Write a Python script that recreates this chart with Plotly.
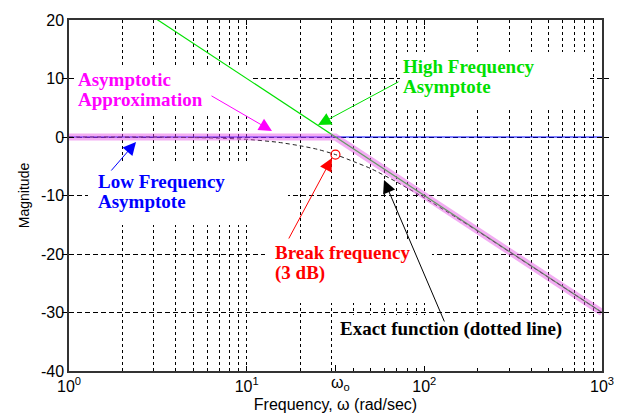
import plotly.graph_objects as go

# ---------------- data ----------------
W0 = 31.6  # break frequency (rad/sec)

lf_w = [1, 1000]            # low frequency asymptote
lf_db = [0, 0]
hf_w = [1, 1000]            # high frequency asymptote (-20 dB/dec)
hf_db = [30, -30]
approx_w = [1, 31.6, 1000]  # asymptotic approximation
approx_db = [0, 0, -30]
exact_w = [1, 2, 3, 5, 7, 10, 15, 20, 25, 31.6, 40, 50, 70, 100, 150, 200, 300, 500, 700, 1000]
exact_db = [0.0, 0.0, 0.0, -0.1, -0.2, -0.4, -0.9, -1.5, -2.1, -3.0, -4.2, -5.4, -7.7,
            -10.4, -13.7, -16.1, -19.6, -24.0, -26.9, -30.0]
break_w = [31.6]
break_db = [-3.0]

x_major = [1, 10, 100, 1000]
x_major_text = ["10<sup>0</sup>", "10<sup>1</sup>", "10<sup>2</sup>", "10<sup>3</sup>"]
x_minor = [2, 3, 4, 5, 6, 7, 8, 9, 20, 30, 40, 50, 60, 70, 80, 90,
           200, 300, 400, 500, 600, 700, 800, 900]
y_ticks = [20, 10, 0, -10, -20, -30, -40]
y_tick_text = ["20", "10", "0", "-10", "-20", "-30", "-40"]

# ---------------- layout helpers (screen pixel -> paper / data) ----------------
OFF = 8                      # page body margin
W, H = 622 - OFF, 416 - OFF  # figure size
PL, PR, PT, PB = 69, 602, 20, 371  # plot area in screen pixels
PW, PH = PR - PL, PB - PT
L, T = PL - OFF, PT - OFF
R, B = W - L - PW, H - T - PH


def PX(x):
    return (x - PL) / PW


def PY(y):
    return (PB - y) / PH


def DX(x):  # screen x -> data value on log axis
    return 10 ** (3 * PX(x))


def DY(y):  # screen y -> dB
    return -40 + 60 * PY(y)


GREEN = "#00e000"
MAGENTA = "#ff00ff"
BLUE = "#0000ff"
RED = "#ff0000"
PINK = "rgba(228,70,228,0.45)"

fig = go.Figure()
fig.add_trace(go.Scatter(x=lf_w, y=lf_db, mode="lines", line=dict(color=BLUE, width=1.2),
                         hoverinfo="skip"))
fig.add_trace(go.Scatter(x=hf_w, y=hf_db, mode="lines", line=dict(color=GREEN, width=1.2),
                         hoverinfo="skip"))
fig.add_trace(go.Scatter(x=exact_w, y=exact_db, mode="lines",
                         line=dict(color="#222222", width=1, dash="4px,3px", shape="spline",
                                   smoothing=0.6),
                         hoverinfo="skip"))
fig.add_trace(go.Scatter(x=approx_w, y=approx_db, mode="lines", line=dict(color=PINK, width=7),
                         hoverinfo="skip"))
fig.add_trace(go.Scatter(x=break_w, y=break_db, mode="markers", xaxis="x2", yaxis="y",
                         marker=dict(symbol="circle-open", size=9, color=RED,
                                     line=dict(color=RED, width=1.2)),
                         hoverinfo="skip"))

# white boxes that interrupt the grid behind the labels
boxes = [
    (69, 250, 65, 115),
    (400, 590, 52, 108),
    (88, 288, 163, 225),
    (265, 432, 240, 303),
    (340, 568, 315, 365),
]
for x0, x1, y0, y1 in boxes:
    fig.add_shape(type="rect", xref="x", yref="y",
                  x0=DX(x0), x1=DX(x1), y0=DY(y1), y1=DY(y0),
                  fillcolor="white", line=dict(width=0), layer="between")

SERIF = "Liberation Serif, Times New Roman, serif"
annotations = []


def text(s, x, y, color):
    annotations.append(dict(text="<b>" + s + "</b>", xref="paper", yref="paper",
                            x=PX(x - 2), y=PY(y), xanchor="left", yanchor="middle",
                            showarrow=False, font=dict(family=SERIF, size=19, color=color)))


def arrow(tip, tail, color):
    annotations.append(dict(text="", xref="paper", yref="paper", x=PX(tip[0]), y=PY(tip[1]),
                            ax=tail[0] - tip[0], ay=tail[1] - tip[1], showarrow=True,
                            arrowhead=2, arrowsize=2.6, arrowwidth=1, arrowcolor=color,
                            standoff=0))


text("Asymptotic", 78, 79.5, MAGENTA)
text("Approximation", 78, 99.5, MAGENTA)
arrow((272, 131), (210, 95), MAGENTA)

text("High Frequency", 403, 66.5, GREEN)
text("Asymptote", 403, 86.5, GREEN)
arrow((318, 125), (400, 81), GREEN)

text("Low Frequency", 98, 181.5, BLUE)
text("Asymptote", 98, 201.5, BLUE)
arrow((136, 142), (110, 172), BLUE)

text("Break frequency", 275, 252.5, RED)
text("(3 dB)", 275, 272.5, RED)
arrow((332, 158), (288, 240), RED)

text("Exact function (dotted line)", 340, 328.5, "#000000")
arrow((384, 180), (445, 323), "#000000")

SANS = "Liberation Sans, Arial, sans-serif"
AXLINE = "#333333"

fig.update_layout(
    width=W, height=H,
    margin=dict(l=L, r=R, t=T, b=B, pad=0, autoexpand=False),
    paper_bgcolor="white", plot_bgcolor="white",
    showlegend=False,
    font=dict(family=SANS, size=16, color="black"),
    annotations=annotations,
    xaxis=dict(type="log", range=[0, 3], tickmode="array", tickvals=x_major,
               ticktext=x_major_text, ticks="inside", ticklen=5, tickcolor="black",
               showline=True, linecolor=AXLINE, linewidth=1.5, mirror="allticks",
               showgrid=True, gridcolor="black", gridwidth=1, griddash="3px,3px",
               automargin=False,
               tickfont=dict(family=SANS, size=16, color="black"),
               minor=dict(tickmode="array", tickvals=x_minor, ticks="inside", ticklen=3,
                          tickcolor="black", showgrid=True, gridcolor="black",
                          gridwidth=1, griddash="3px,3px"),
               title=dict(text="Frequency, ω (rad/sec)", standoff=5,
                          font=dict(family=SANS, size=16, color="black"))),
    xaxis2=dict(type="log", range=[0, 3], overlaying="x", anchor="y", side="bottom",
                tickmode="array", tickvals=break_w, ticktext=["ω<sub>o</sub>"],
                ticks="inside", ticklen=6, tickcolor="black", showgrid=False,
                showline=False, ticklabelshift=5, automargin=False,
                tickfont=dict(family=SANS, size=16, color="black")),
    yaxis=dict(range=[-40, 20], tickmode="array", tickvals=y_ticks, ticktext=y_tick_text,
               ticks="inside", ticklen=5, tickcolor="black", zeroline=False,
               showline=True, linecolor=AXLINE, linewidth=1.5, mirror="allticks",
               showgrid=True, gridcolor="black", gridwidth=1, griddash="5px,3px",
               automargin=False,
               tickfont=dict(family=SANS, size=16, color="black"),
               title=dict(text="Magnitude", standoff=8,
                          font=dict(family=SANS, size=14, color="black"))),
)

fig.write_html("out.html")
